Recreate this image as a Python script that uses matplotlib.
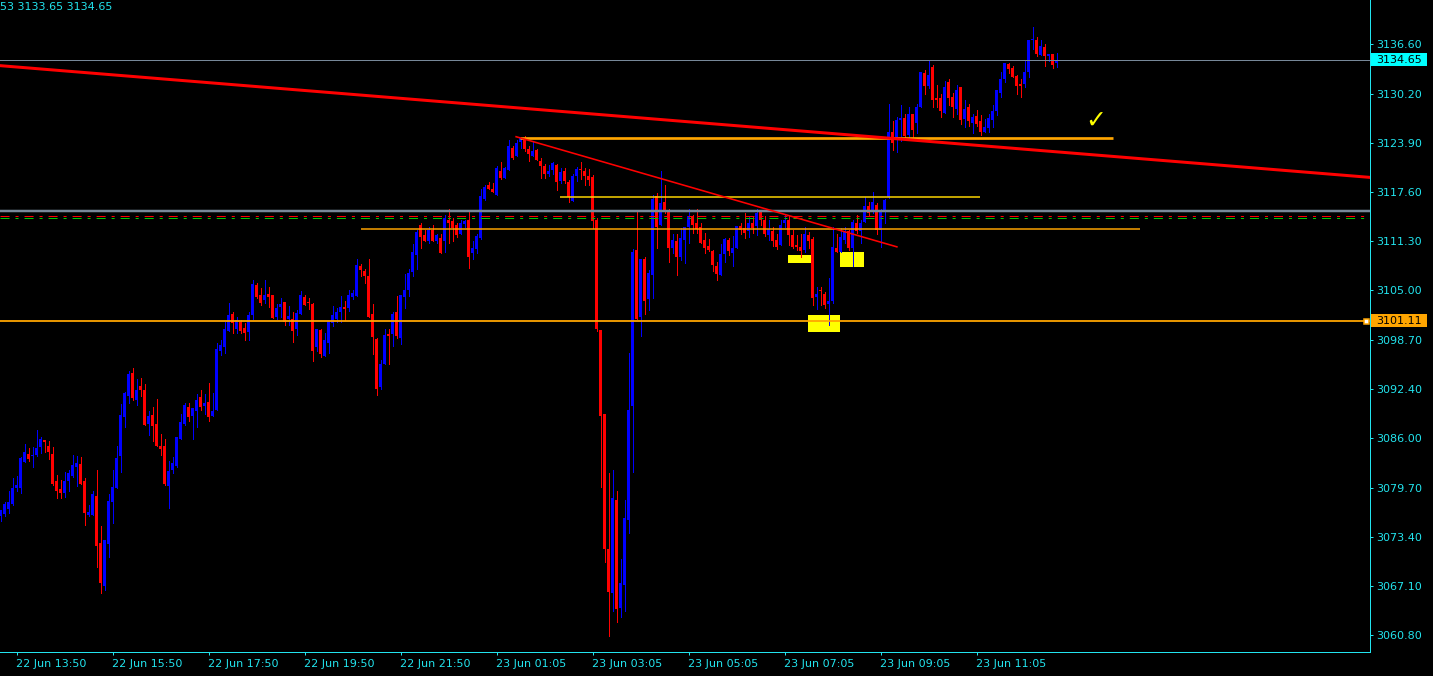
import matplotlib
matplotlib.use("Agg")
import matplotlib.pyplot as plt
import matplotlib.transforms as mtransforms
from matplotlib.patches import Rectangle
import numpy as np

# 5 minute bars, bar 0 is 22 Jun 13:50, first bar in the list is bar -4
first_bar = -4

opens = [
    3076.0, 3076.3, 3077.0, 3077.6, 3079.6, 3079.7, 3083.0, 3084.0, 3083.7, 3083.9,
    3084.9, 3085.8, 3085.0, 3084.0, 3080.5, 3079.5, 3079.0, 3080.6, 3081.2, 3082.3,
    3082.7, 3080.5, 3076.2, 3076.2, 3078.6, 3072.6, 3067.1, 3072.5, 3077.8, 3079.7,
    3083.7, 3088.7, 3091.5, 3094.4, 3091.0, 3092.7, 3092.2, 3087.9, 3089.0, 3087.9,
    3085.0, 3085.0, 3079.9, 3082.0, 3082.5, 3085.9, 3087.9, 3090.0, 3088.9, 3089.5,
    3091.3, 3090.2, 3090.7, 3088.9, 3089.6, 3097.2, 3097.7, 3099.8, 3102.0, 3100.1,
    3101.0, 3100.2, 3099.7, 3101.9, 3105.7, 3104.4, 3103.8, 3104.6, 3104.4, 3101.6,
    3102.9, 3103.5, 3101.4, 3101.4, 3100.0, 3102.0, 3104.2, 3103.5, 3103.3, 3097.7,
    3099.9, 3096.6, 3098.2, 3100.8, 3101.4, 3102.3, 3102.9, 3102.7, 3104.2, 3104.3,
    3108.1, 3107.5, 3106.9, 3102.0, 3098.8, 3092.6, 3095.6, 3099.4, 3099.4, 3102.3,
    3098.9, 3104.1, 3105.1, 3107.4, 3109.6, 3113.4, 3112.1, 3111.3, 3112.8, 3111.4,
    3111.8, 3111.4, 3114.1, 3113.9, 3113.4, 3112.3, 3113.5, 3114.1, 3109.8, 3110.3,
    3111.7, 3116.8, 3118.5, 3118.0, 3117.3, 3120.3, 3119.4, 3120.5, 3123.3, 3122.3,
    3124.0, 3124.5, 3123.2, 3122.3, 3123.0, 3121.6, 3121.0, 3119.9, 3120.5, 3121.1,
    3119.1, 3120.3, 3118.9, 3116.5, 3119.7, 3120.6, 3120.3, 3119.7, 3119.6, 3114.0,
    3099.9, 3089.1, 3071.8, 3066.2, 3078.1, 3064.3, 3067.2, 3075.5, 3090.2, 3110.2,
    3101.6, 3109.1, 3103.9, 3107.0, 3117.1, 3113.4, 3116.3, 3115.3, 3110.4, 3111.4,
    3109.3, 3111.5, 3113.2, 3114.6, 3113.7, 3113.2, 3111.5, 3110.7, 3110.1, 3108.1,
    3107.0, 3109.7, 3111.5, 3109.8, 3110.4, 3113.3, 3113.0, 3112.6, 3113.6, 3113.3,
    3115.1, 3114.0, 3112.1, 3112.6, 3111.5, 3110.8, 3113.6, 3114.1, 3112.1, 3110.8,
    3110.6, 3110.2, 3112.1, 3111.6, 3104.1, 3105.1, 3104.6, 3103.3, 3103.6, 3110.5,
    3110.0, 3111.5, 3112.6, 3110.4, 3113.7, 3112.6, 3113.8, 3115.8, 3115.1, 3116.0,
    3112.8, 3115.2, 3117.0, 3125.4, 3124.5, 3126.9, 3127.2, 3125.0, 3127.7, 3126.5,
    3128.5, 3132.9, 3131.3, 3133.7, 3129.7, 3129.7, 3127.8, 3131.7, 3129.8, 3128.3,
    3131.1, 3127.0, 3128.5, 3126.5, 3127.4, 3126.7, 3125.4, 3125.8, 3126.9, 3128.1,
    3130.3, 3132.1, 3134.1, 3133.5, 3132.5, 3131.5, 3131.5, 3133.1, 3137.1, 3137.1,
    3135.2, 3136.2, 3135.1, 3135.4, 3134.2,
]
highs = [
    3076.8, 3077.8, 3079.3, 3080.9, 3081.2, 3083.6, 3085.3, 3084.8, 3084.9, 3087.1,
    3086.2, 3085.8, 3085.7, 3084.9, 3081.3, 3080.7, 3081.7, 3082.0, 3083.9, 3083.8,
    3083.6, 3080.9, 3077.5, 3079.3, 3082.0, 3074.7, 3073.0, 3078.9, 3082.0, 3085.0,
    3090.4, 3092.0, 3094.6, 3095.1, 3093.6, 3093.8, 3093.0, 3089.5, 3090.1, 3091.1,
    3086.6, 3085.9, 3083.1, 3083.6, 3086.2, 3089.2, 3090.5, 3090.5, 3089.9, 3091.7,
    3092.2, 3091.7, 3093.1, 3091.8, 3098.3, 3098.6, 3101.0, 3103.4, 3102.2, 3101.6,
    3101.2, 3100.8, 3102.2, 3106.4, 3105.9, 3105.3, 3106.4, 3105.4, 3104.4, 3103.3,
    3104.0, 3103.5, 3103.0, 3102.3, 3102.5, 3104.9, 3104.4, 3104.0, 3103.4, 3100.1,
    3100.1, 3099.6, 3101.1, 3103.0, 3102.8, 3104.3, 3103.6, 3105.1, 3105.1, 3109.0,
    3108.4, 3107.7, 3109.0, 3103.3, 3098.9, 3096.1, 3100.0, 3100.0, 3102.3, 3104.3,
    3104.4, 3107.1, 3107.8, 3111.0, 3112.8, 3113.6, 3112.7, 3113.2, 3113.4, 3112.3,
    3112.3, 3114.7, 3115.5, 3114.3, 3113.7, 3114.0, 3114.1, 3115.3, 3111.3, 3112.2,
    3118.0, 3118.6, 3118.9, 3118.8, 3121.0, 3121.5, 3120.9, 3124.3, 3123.6, 3124.3,
    3124.7, 3124.8, 3123.6, 3124.0, 3123.2, 3122.0, 3121.2, 3121.1, 3121.5, 3121.3,
    3120.7, 3120.7, 3119.2, 3119.9, 3120.9, 3121.5, 3120.7, 3120.6, 3119.8, 3114.3,
    3099.9, 3089.1, 3081.6, 3081.9, 3079.2, 3070.5, 3078.1, 3097.0, 3110.3, 3115.3,
    3109.0, 3109.3, 3107.6, 3117.3, 3117.5, 3120.3, 3118.5, 3115.5, 3112.3, 3112.3,
    3113.0, 3113.2, 3115.4, 3114.7, 3115.4, 3113.6, 3112.4, 3111.6, 3110.2, 3108.7,
    3111.0, 3111.8, 3111.7, 3112.0, 3113.3, 3113.7, 3114.9, 3114.6, 3114.6, 3115.5,
    3115.3, 3114.6, 3114.1, 3113.2, 3112.3, 3114.1, 3114.7, 3114.6, 3112.8, 3112.1,
    3112.3, 3113.1, 3112.5, 3111.9, 3105.4, 3105.4, 3104.8, 3106.6, 3113.1, 3112.3,
    3113.0, 3113.1, 3112.7, 3114.1, 3114.7, 3114.0, 3117.0, 3116.3, 3117.6, 3116.2,
    3115.4, 3116.8, 3128.9, 3126.7, 3127.3, 3128.8, 3127.7, 3128.5, 3127.7, 3129.0,
    3133.1, 3133.3, 3134.5, 3133.9, 3131.4, 3130.2, 3131.9, 3132.2, 3130.4, 3131.4,
    3131.1, 3129.5, 3129.0, 3127.7, 3128.2, 3127.5, 3127.0, 3127.7, 3128.8, 3130.8,
    3133.1, 3134.2, 3134.2, 3133.8, 3132.7, 3132.1, 3134.6, 3137.2, 3138.8, 3137.5,
    3137.2, 3136.6, 3135.4, 3135.4, 3135.5,
]
lows = [
    3075.4, 3076.1, 3076.4, 3077.5, 3079.2, 3079.0, 3083.0, 3083.1, 3082.4, 3083.8,
    3084.1, 3084.2, 3083.4, 3080.0, 3078.3, 3078.4, 3078.5, 3079.3, 3081.1, 3079.9,
    3080.2, 3074.9, 3076.0, 3076.2, 3069.5, 3066.2, 3066.5, 3070.8, 3075.1, 3079.7,
    3081.7, 3087.5, 3090.6, 3091.0, 3090.3, 3091.5, 3087.7, 3086.4, 3085.7, 3085.0,
    3083.9, 3080.0, 3077.1, 3081.6, 3082.4, 3085.9, 3087.7, 3088.2, 3085.9, 3087.5,
    3089.6, 3089.2, 3088.3, 3088.9, 3089.6, 3096.7, 3097.0, 3099.8, 3099.5, 3099.6,
    3099.6, 3098.6, 3098.6, 3101.4, 3104.0, 3103.1, 3103.4, 3102.9, 3101.5, 3101.4,
    3101.6, 3100.6, 3100.6, 3098.4, 3099.3, 3102.0, 3103.1, 3102.6, 3095.9, 3097.2,
    3096.4, 3096.6, 3097.0, 3100.4, 3100.9, 3101.0, 3101.2, 3102.4, 3103.9, 3104.3,
    3106.8, 3106.0, 3101.6, 3096.9, 3091.6, 3092.3, 3095.6, 3095.6, 3097.9, 3098.9,
    3098.1, 3102.8, 3104.3, 3106.9, 3107.7, 3110.4, 3111.3, 3111.1, 3111.3, 3111.1,
    3109.8, 3110.0, 3111.1, 3111.4, 3111.9, 3112.3, 3113.2, 3107.9, 3109.0, 3109.8,
    3111.6, 3116.6, 3118.0, 3117.6, 3117.3, 3119.3, 3119.4, 3120.5, 3121.9, 3122.2,
    3123.3, 3122.9, 3121.6, 3122.2, 3121.7, 3119.5, 3119.4, 3119.7, 3120.0, 3117.9,
    3118.8, 3118.8, 3116.4, 3116.5, 3119.0, 3119.3, 3118.6, 3118.5, 3113.0, 3099.8,
    3079.8, 3070.1, 3060.6, 3063.8, 3062.5, 3063.1, 3063.9, 3073.9, 3081.7, 3101.3,
    3099.1, 3102.0, 3102.5, 3104.0, 3110.4, 3113.4, 3114.9, 3108.7, 3109.8, 3107.0,
    3108.9, 3108.5, 3111.1, 3112.4, 3112.4, 3111.1, 3109.8, 3110.1, 3107.5, 3106.3,
    3107.0, 3108.7, 3109.6, 3108.1, 3110.4, 3112.3, 3111.8, 3111.9, 3112.4, 3112.1,
    3113.4, 3112.0, 3111.5, 3110.7, 3110.3, 3110.8, 3113.2, 3110.8, 3110.4, 3110.2,
    3109.3, 3110.0, 3110.4, 3103.1, 3102.6, 3103.1, 3102.7, 3100.6, 3103.4, 3109.9,
    3109.9, 3111.1, 3110.2, 3108.1, 3112.4, 3111.1, 3113.8, 3114.7, 3115.0, 3112.3,
    3110.6, 3113.6, 3116.9, 3123.0, 3122.8, 3124.2, 3124.5, 3124.4, 3124.5, 3125.2,
    3128.5, 3130.2, 3131.0, 3128.6, 3128.5, 3127.3, 3127.8, 3128.8, 3127.3, 3127.7,
    3126.4, 3126.0, 3126.1, 3125.2, 3126.1, 3125.0, 3125.3, 3125.3, 3126.0, 3127.5,
    3129.8, 3131.8, 3132.9, 3132.4, 3130.2, 3129.8, 3131.1, 3132.4, 3136.0, 3135.1,
    3135.2, 3133.8, 3134.5, 3133.5, 3133.65,
]
closes = [
    3076.8, 3077.6, 3077.9, 3079.6, 3080.0, 3083.5, 3084.2, 3083.4, 3083.9, 3084.8,
    3085.9, 3085.5, 3084.2, 3080.2, 3079.2, 3079.0, 3080.6, 3081.6, 3082.6, 3082.8,
    3080.2, 3076.4, 3076.5, 3078.9, 3072.2, 3067.5, 3073.0, 3078.0, 3079.8, 3083.5,
    3089.0, 3091.8, 3094.3, 3091.2, 3092.2, 3092.2, 3087.7, 3088.9, 3087.6, 3085.0,
    3084.6, 3080.2, 3081.8, 3082.9, 3086.2, 3088.1, 3090.3, 3088.7, 3089.9, 3091.0,
    3090.0, 3090.6, 3088.8, 3089.5, 3097.5, 3098.0, 3100.1, 3101.8, 3100.8, 3101.2,
    3099.8, 3099.6, 3101.9, 3105.8, 3104.1, 3103.4, 3104.4, 3104.1, 3101.5, 3102.7,
    3103.3, 3101.0, 3101.7, 3099.8, 3102.1, 3104.4, 3103.1, 3103.4, 3097.2, 3100.1,
    3096.9, 3098.6, 3101.1, 3101.9, 3102.3, 3102.9, 3102.6, 3104.4, 3104.7, 3108.3,
    3107.6, 3106.9, 3101.6, 3099.0, 3092.3, 3095.6, 3099.3, 3099.2, 3102.0, 3099.1,
    3104.4, 3105.1, 3107.2, 3110.0, 3112.5, 3111.9, 3111.4, 3112.8, 3111.3, 3112.1,
    3109.8, 3114.3, 3113.7, 3113.0, 3112.1, 3113.7, 3113.9, 3109.3, 3110.5, 3112.0,
    3117.1, 3118.3, 3118.0, 3117.6, 3120.7, 3119.4, 3120.7, 3123.5, 3122.0, 3123.9,
    3124.6, 3123.2, 3122.5, 3122.9, 3121.7, 3121.0, 3119.9, 3120.3, 3121.4, 3118.9,
    3120.2, 3119.0, 3117.0, 3119.7, 3120.6, 3120.5, 3119.7, 3119.2, 3113.9, 3100.0,
    3088.9, 3071.8, 3066.3, 3078.3, 3064.1, 3067.4, 3075.8, 3089.7, 3110.0, 3101.3,
    3109.0, 3103.6, 3107.2, 3116.8, 3113.2, 3116.2, 3115.3, 3110.5, 3111.5, 3109.3,
    3111.7, 3113.2, 3114.5, 3113.4, 3112.9, 3111.1, 3110.4, 3110.2, 3108.3, 3107.1,
    3109.7, 3111.6, 3110.1, 3110.5, 3113.3, 3112.8, 3112.4, 3113.7, 3113.0, 3114.9,
    3114.0, 3112.3, 3112.9, 3111.3, 3110.6, 3113.4, 3114.1, 3112.1, 3110.6, 3110.6,
    3110.1, 3112.3, 3111.4, 3104.0, 3104.5, 3104.9, 3103.1, 3103.6, 3110.6, 3109.9,
    3111.9, 3112.6, 3110.4, 3113.8, 3112.6, 3113.7, 3115.8, 3115.0, 3116.4, 3112.7,
    3115.2, 3116.6, 3125.4, 3123.9, 3126.9, 3127.2, 3124.8, 3127.7, 3125.6, 3128.5,
    3133.1, 3131.2, 3132.7, 3129.5, 3129.4, 3128.1, 3131.1, 3129.7, 3128.5, 3130.8,
    3126.9, 3128.3, 3126.7, 3127.3, 3126.4, 3125.3, 3126.0, 3127.1, 3128.0, 3130.7,
    3132.1, 3134.2, 3133.4, 3132.4, 3131.3, 3131.3, 3133.1, 3137.1, 3137.2, 3135.4,
    3136.4, 3135.1, 3135.4, 3133.9, 3134.65,
]

time_tick_bars = [0, 24, 48, 72, 96, 120, 144, 168, 192, 216, 240]
time_labels = ["22 Jun 13:50", "22 Jun 15:50", "22 Jun 17:50", "22 Jun 19:50",
               "22 Jun 21:50", "23 Jun 01:05", "23 Jun 03:05", "23 Jun 05:05",
               "23 Jun 07:05", "23 Jun 09:05", "23 Jun 11:05"]
price_ticks = [3136.60, 3130.20, 3123.90, 3117.60, 3111.30, 3105.00, 3098.70,
               3092.40, 3086.00, 3079.70, 3073.40, 3067.10, 3060.80]

header_text = "53 3133.65 3134.65"
last_price = 3134.65
level_price = 3101.11

# drawn objects: (bar, price) pairs
long_trend = [(-5, 3133.9), (340, 3119.45)]
short_trend = [(124.9, 3124.74), (220.1, 3110.6)]
# horizontal segments: price, first bar, last bar, colour, width in px
segments = [
    (3124.57, 125.9, 274.1, "#FFA500", 2.7),
    (3117.03, 135.9, 240.9, "#FFD700", 1.5),
    (3112.88, 86.1, 280.9, "#FFA500", 1.5),
]
# yellow boxes: first bar, last bar, low price, high price
boxes = [
    (192.9, 198.6, 3108.49, 3109.55),
    (205.9, 211.9, 3108.05, 3109.94),
    (197.9, 205.9, 3099.70, 3101.85),
]
check_mark = (269.9, 3126.75)

CYAN = "#22E4EE"
PX = 0.72  # one pixel in points at 100 dpi


def draw_candles(ax):
    x = np.arange(len(opens)) + first_bar
    o = np.array(opens)
    h = np.array(highs)
    l = np.array(lows)
    c = np.array(closes)
    up = c > o
    colors = np.where(up, "#0000FF", "#FF0000")
    ax.vlines(x, l, h, colors=colors, linewidth=PX, antialiased=False, zorder=3)
    bottom = np.minimum(o, c)
    height = np.maximum(np.abs(c - o), 0.13)
    ax.bar(x, height, width=0.75, bottom=bottom, color=colors, linewidth=0,
           antialiased=False, zorder=4)


def price_tag(ax, price, face):
    trans = mtransforms.blended_transform_factory(ax.transAxes, ax.transData)
    ax.add_patch(Rectangle((1.0011, price - 0.84), 0.0409, 1.68, transform=trans,
                           facecolor=face, edgecolor="none", clip_on=False, zorder=6))
    ax.text(1.0047, price, "%.2f" % price, transform=trans, color="black",
            fontsize=8, va="center", ha="left", clip_on=False, zorder=7)


def main():
    plt.rcParams["lines.scale_dashes"] = False
    plt.rcParams["font.family"] = "DejaVu Sans"

    fig = plt.figure(figsize=(14.33, 6.76), dpi=100, facecolor="black")
    ax = fig.add_axes([0, 23.7 / 676, 1369.5 / 1433, 652.3 / 676])
    ax.set_facecolor("black")

    # yellow boxes under the candles
    for b0, b1, p0, p1 in boxes:
        ax.add_patch(Rectangle((b0, p0), b1 - b0, p1 - p0, facecolor="#FFFF00",
                               edgecolor="none", zorder=2))

    draw_candles(ax)

    # full width levels
    ax.axhline(3115.16, color="#778899", linewidth=2.5 * PX, zorder=5)
    ax.axhline(3114.56, color="#FF0000", linewidth=PX, dashes=(6.5, 4.3, 2.2, 4.3), zorder=5)
    ax.axhline(3114.26, color="#00C800", linewidth=PX, dashes=(6.5, 4.3, 2.2, 4.3), zorder=5)
    ax.axhline(level_price, color="#FFA500", linewidth=1.8 * PX, zorder=5)
    ax.axhline(last_price, color="#778899", linewidth=PX, zorder=5)

    for price, b0, b1, col, w in segments:
        ax.plot([b0, b1], [price, price], color=col, linewidth=w * PX,
                solid_capstyle="butt", zorder=5)

    ax.plot([p[0] for p in long_trend], [p[1] for p in long_trend],
            color="#FF0000", linewidth=3 * PX, zorder=5)
    ax.plot([p[0] for p in short_trend], [p[1] for p in short_trend],
            color="#FF0000", linewidth=1.6 * PX, zorder=5)

    ax.plot([337.25], [level_price], marker="s", markersize=3.6,
            markerfacecolor="white", markeredgecolor="#FFA500",
            markeredgewidth=1.1, zorder=6, clip_on=False)

    ax.text(check_mark[0], check_mark[1], "\u2713", color="#FFFF00",
            fontsize=18, ha="center", va="center", zorder=6)

    ax.set_xlim(-4.125, 338.25)
    ax.set_ylim(3058.55, 3142.29)

    for side in ["top", "left"]:
        ax.spines[side].set_visible(False)
    for side in ["right", "bottom"]:
        ax.spines[side].set_color(CYAN)
        ax.spines[side].set_linewidth(PX)

    ax.yaxis.tick_right()
    ax.set_yticks(price_ticks)
    ax.set_yticklabels(["%.2f" % p for p in price_ticks])
    ax.set_xticks(time_tick_bars)
    ax.set_xticklabels(time_labels, ha="left")
    ax.tick_params(axis="both", colors=CYAN, labelsize=8, length=2.5,
                   width=PX, direction="out")
    ax.tick_params(axis="y", pad=2.5)
    ax.tick_params(axis="x", pad=2.5)

    price_tag(ax, last_price, "#00FFFF")
    price_tag(ax, level_price, "#FFA500")

    fig.text(0.0, 1 - 7.5 / 676, header_text, color=CYAN, fontsize=8,
             ha="left", va="center")

    fig.savefig("out.png", dpi=100, facecolor="black")


if __name__ == "__main__":
    main()
